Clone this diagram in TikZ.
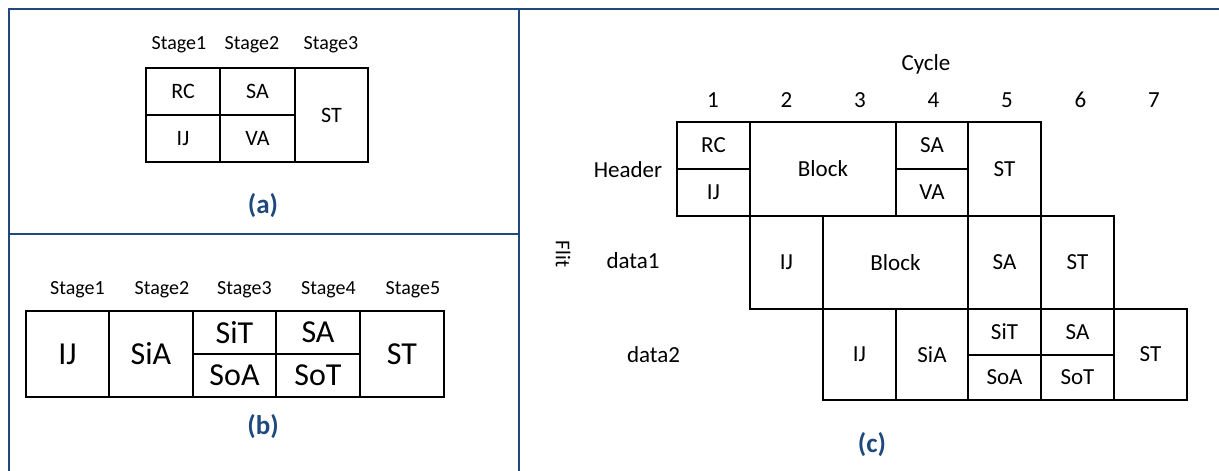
\documentclass[tikz,border=0pt]{standalone}
\usepackage{fontspec}
\setmainfont{Carlito}
\usepackage{xcolor}
\definecolor{hd}{RGB}{31,73,125}

\begin{document}
\begin{tikzpicture}[x=1pt,y=-1pt,
  cell/.style={draw,line width=1.6pt,inner sep=0pt},
  wh/.style 2 args={cell,minimum width=#1pt,minimum height=#2pt},
  stg/.style={font=\fontsize{20}{24}\selectfont},
  ta/.style={font=\fontsize{22}{26}\selectfont},
  tb/.style={font=\fontsize{32}{38}\selectfont},
  tc/.style={font=\fontsize{23}{28}\selectfont},
  tag/.style={text=hd,font=\bfseries\fontsize{27}{32}\selectfont}]
  \useasboundingbox (0,0) rectangle (1219,471);
  \draw[hd,line width=2.6pt] (9,471) -- (9,9) -- (1219,9);
  \draw[hd,line width=2.6pt] (519,9) -- (519,471);
  \draw[hd,line width=2.6pt] (9,234) -- (519,234);

  \foreach \x [count=\i] in {179,252,331}
    \node[stg] (as\i) at (\x,45) {Stage\i};
  \node[ta,wh={74}{47}] (aRC) at (183,91.5) {RC};
  \node[ta,wh={74}{47}] (aIJ) at (183,138.5) {IJ};
  \node[ta,wh={75}{47}] (aSA) at (257.5,91.5) {SA};
  \node[ta,wh={75}{47}] (aVA) at (257.5,138.5) {VA};
  \node[ta,wh={73}{94}] (aST) at (331.5,115) {ST};
  \node[tag] (la) at (263,206) {(a)};

  \foreach \x [count=\i] in {77.5,162,244.5,328.5,413}
    \node[stg] (bs\i) at (\x,290) {Stage\i};
  \node[tb,wh={83}{86}] (bIJ) at (67.5,354) {IJ};
  \node[tb,wh={84}{86}] (bSiA) at (151,354) {SiA};
  \node[tb,wh={83}{43}] (bSiT) at (234.5,332.5) {SiT};
  \node[tb,wh={83}{43}] (bSoA) at (234.5,375.5) {SoA};
  \node[tb,wh={84}{43}] (bSA) at (318,332.5) {SA};
  \node[tb,wh={84}{43}] (bSoT) at (318,375.5) {SoT};
  \node[tb,wh={84}{86}] (bST) at (402,354) {ST};
  \node[tag] (lb) at (263,427) {(b)};

  \node[tc] (cyc) at (926,64) {Cycle};
  \foreach \i in {1,...,7}
    \node[tc] (n\i) at ({713+73.5*(\i-1)},100) {\i};
  \node[tc] (hdr) at (628,169.5) {Header};
  \node[tc] (d1) at (633,261) {data1};
  \node[tc] (d2) at (653.5,355) {data2};
  \node[rotate=-90,font=\fontsize{21}{25}\selectfont] (flit) at (563,254) {Flit};

  \node[tc,wh={73}{47}] (hRC) at (713.5,145.5) {RC};
  \node[tc,wh={73}{47}] (hIJ) at (713.5,192.5) {IJ};
  \node[tc,wh={146}{94}] (hBl) at (823,169) {Block};
  \node[tc,wh={72}{47}] (hSA) at (932,145.5) {SA};
  \node[tc,wh={72}{47}] (hVA) at (932,192.5) {VA};
  \node[tc,wh={73}{94}] (hST) at (1004.5,169) {ST};

  \node[tc,wh={73}{93}] (eIJ) at (786.5,262.5) {IJ};
  \node[tc,wh={145}{93}] (eBl) at (895.5,262.5) {Block};
  \node[tc,wh={73}{93}] (eSA) at (1004.5,262.5) {SA};
  \node[tc,wh={73}{93}] (eST) at (1077.5,262.5) {ST};

  \node[tc,wh={73}{91}] (fIJ) at (859.5,354.5) {IJ};
  \node[tc,wh={72}{91}] (fSiA) at (932,354.5) {SiA};
  \node[tc,wh={73}{46}] (fSiT) at (1004.5,332) {SiT};
  \node[tc,wh={73}{45}] (fSoA) at (1004.5,377.5) {SoA};
  \node[tc,wh={73}{46}] (fSA) at (1077.5,332) {SA};
  \node[tc,wh={73}{45}] (fSoT) at (1077.5,377.5) {SoT};
  \node[tc,wh={73}{91}] (fST) at (1150.5,354.5) {ST};
  \node[tag] (lc) at (872,445) {(c)};
\end{tikzpicture}
\end{document}
